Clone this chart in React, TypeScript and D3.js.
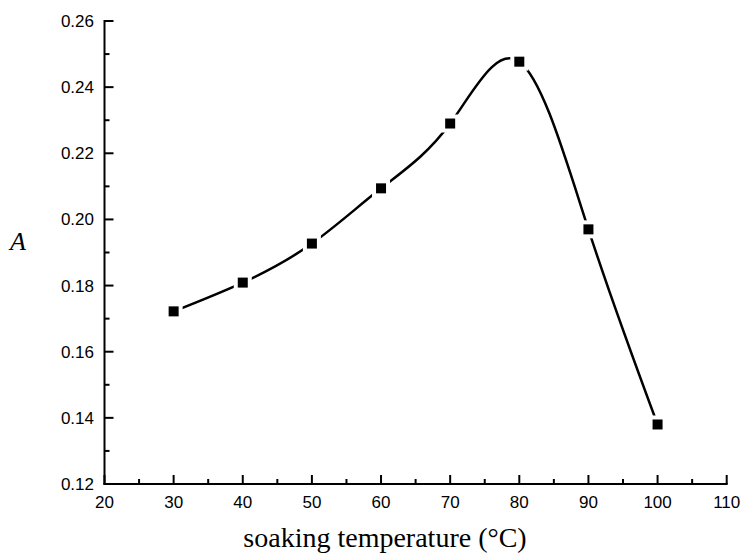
import React from "react";
import * as d3 from "d3";

// soaking temperature (°C) and absorbance A
const temperatures = [30, 40, 50, 60, 70, 80, 90, 100];
const absorbance = [0.1722, 0.1809, 0.1927, 0.2094, 0.229, 0.2477, 0.197, 0.138];

const xMajorTicks = [20, 30, 40, 50, 60, 70, 80, 90, 100, 110];
const xMinorTicks = [25, 35, 45, 55, 65, 75, 85, 95, 105];
const yMajorTicks = [0.12, 0.14, 0.16, 0.18, 0.2, 0.22, 0.24, 0.26];
const yMinorTicks = [0.13, 0.15, 0.17, 0.19, 0.21, 0.23, 0.25];

const App = () => {
  const width = 743;
  const height = 555;
  const left = 104.5;
  const right = 726.7;
  const top = 21;
  const bottom = 484;

  const x = d3.scaleLinear().domain([20, 110]).range([left, right]);
  const y = d3.scaleLinear().domain([0.12, 0.26]).range([bottom, top]);

  const points: [number, number][] = temperatures.map((t, i) => [t, absorbance[i]]);

  const line = d3
    .line<[number, number]>()
    .x((d) => x(d[0]))
    .y((d) => y(d[1]))
    .curve(d3.curveNatural);

  const tickFont = "'Liberation Sans', Arial, sans-serif";
  const serif = "'Liberation Serif', 'Times New Roman', serif";
  const marker = 10;
  const axisW = 2;

  return (
    <svg
      width={width}
      height={height}
      style={{ position: "absolute", left: 0, top: 0, background: "#fff" }}
    >
      {/* axes */}
      <line x1={left} x2={left} y1={top - 1} y2={bottom + 1} stroke="#000" strokeWidth={axisW} />
      <line x1={left - 1} x2={right + 1} y1={bottom} y2={bottom} stroke="#000" strokeWidth={axisW} />

      {xMajorTicks.map((t) => (
        <g key={"xm" + t}>
          <line x1={x(t)} x2={x(t)} y1={bottom} y2={bottom - 9} stroke="#000" strokeWidth={axisW} />
          <text
            x={x(t)}
            y={508}
            textAnchor="middle"
            fontFamily={tickFont}
            fontSize={17}
          >
            {t}
          </text>
        </g>
      ))}
      {xMinorTicks.map((t) => (
        <line key={"xn" + t} x1={x(t)} x2={x(t)} y1={bottom} y2={bottom - 5} stroke="#000" strokeWidth={axisW} />
      ))}

      {yMajorTicks.map((t) => (
        <g key={"ym" + t}>
          <line x1={left} x2={left + 9} y1={y(t)} y2={y(t)} stroke="#000" strokeWidth={axisW} />
          <text
            x={94}
            y={y(t) + 6}
            textAnchor="end"
            fontFamily={tickFont}
            fontSize={17}
          >
            {t.toFixed(2)}
          </text>
        </g>
      ))}
      {yMinorTicks.map((t) => (
        <line key={"yn" + t} x1={left} x2={left + 5} y1={y(t)} y2={y(t)} stroke="#000" strokeWidth={axisW} />
      ))}

      {/* spline */}
      <path d={line(points) || ""} fill="none" stroke="#000" strokeWidth={2.5} />

      {/* markers with a white halo so the line stops short of them */}
      {points.map((d, i) => (
        <g key={"p" + i}>
          <rect
            x={x(d[0]) - marker / 2 - 4}
            y={y(d[1]) - marker / 2 - 4}
            width={marker + 8}
            height={marker + 8}
            fill="#fff"
          />
          <rect
            x={x(d[0]) - marker / 2}
            y={y(d[1]) - marker / 2}
            width={marker}
            height={marker}
            fill="#000"
          />
        </g>
      ))}

      {/* axis titles */}
      <text
        x={385}
        y={547}
        textAnchor="middle"
        fontFamily={serif}
        fontSize={28}
      >
        soaking temperature (°C)
      </text>
      <text x={10} y={250} fontFamily={serif} fontStyle="italic" fontSize={26}>
        A
      </text>
    </svg>
  );
};

export default App;
